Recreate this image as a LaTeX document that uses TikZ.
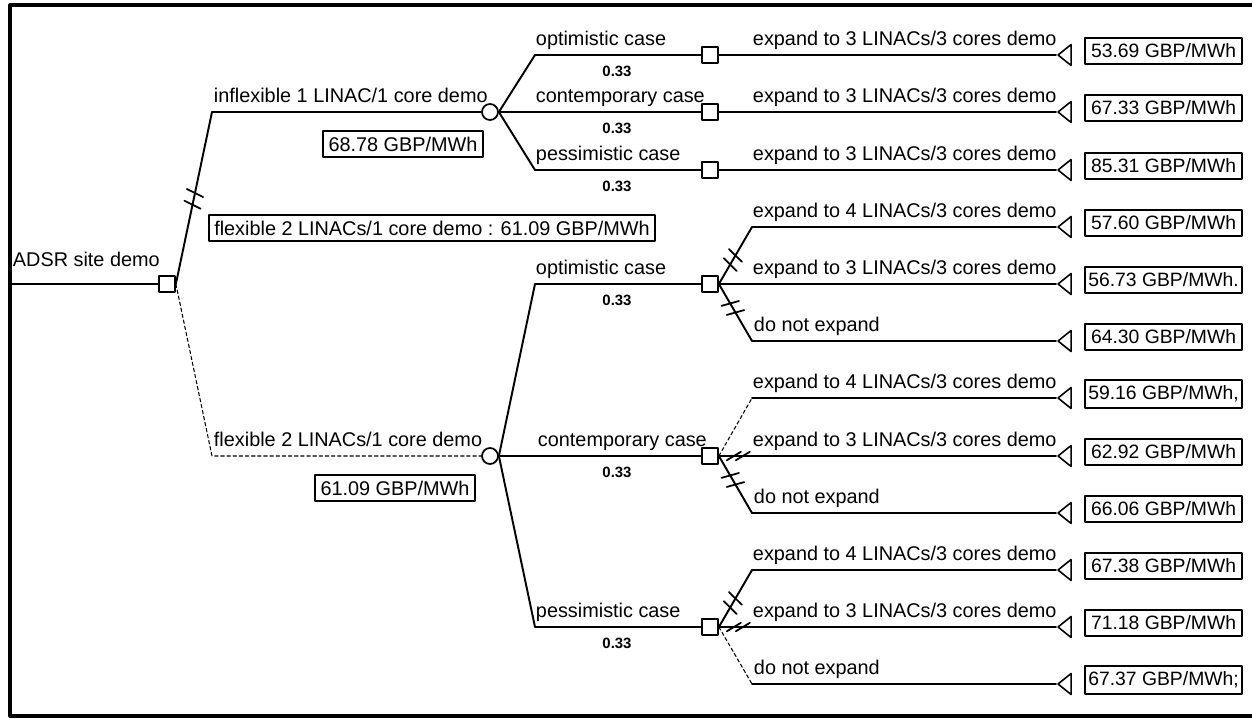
\documentclass[tikz,border=0pt]{standalone}
\usepackage{fontspec}
\setmainfont{Liberation Sans}
\usetikzlibrary{shapes.geometric,decorations.markings,positioning}

\newcommand{\hashmark}{\draw[line width=1pt] (-1.3pt,-5pt) -- (1.3pt,5pt);}
\newcommand{\flatmark}{\draw[line width=1pt] (-4pt,-2.4pt) -- (4pt,2.4pt);}

\begin{document}
\begin{tikzpicture}[x=0.02cm, y=-0.02cm, line width=1.1pt, line cap=round, line join=round,
    font=\fontsize{11.3}{13.5}\selectfont]
  \tikzstyle{decision}=[draw, fill=white, minimum size=0.32cm, inner sep=0pt, line width=1pt]
  \tikzstyle{chance}=[draw, circle, fill=white, minimum size=0.32cm, inner sep=0pt, line width=1pt]
  \tikzstyle{terminal}=[draw, isosceles triangle, isosceles triangle stretches, shape border rotate=180,
    minimum width=0.42cm, minimum height=0.26cm, inner sep=0pt, line width=0.9pt, anchor=apex]
  \tikzstyle{payoff}=[draw, line width=1.2pt, anchor=west, minimum width=3.14cm, inner xsep=1.5pt,
    minimum height=0.48cm, font=\fontsize{11}{13}\selectfont]
  \tikzstyle{result}=[draw, line width=1.2pt, minimum height=0.52cm, inner xsep=3pt]
  \tikzstyle{lbl}=[anchor=base west, inner sep=0pt]
  \tikzstyle{prob}=[inner sep=0pt, font=\fontsize{8.5}{10}\selectfont\bfseries]
  \tikzstyle{chosen}=[line width=0.6pt, dash pattern=on 2pt off 1.5pt]
  \tikzstyle{pruned}=[postaction=decorate, decoration={markings,
    mark=at position 0.45cm with {\hashmark}, mark=at position 0.66cm with {\hashmark}}]
  \tikzstyle{prunedflat}=[postaction=decorate, decoration={markings,
    mark=at position 0.3cm with {\flatmark}, mark=at position 0.48cm with {\flatmark}}]
  \tikzstyle{prunedroot}=[postaction=decorate, decoration={markings,
    mark=at position 1.62cm with {\hashmark}, mark=at position 1.86cm with {\hashmark}}]

  \useasboundingbox (0,0) rectangle (1252,719);
  \draw[line width=1.8pt] (1252,5) -- (10,5) -- (10,716) -- (1252,716);

  % root decision
  \coordinate (start) at (10,284);
  \node[decision] (root) at (167,284) {};
  \node[lbl] at (12,267) {ADSR site demo};
  \draw (start) -- (root.west);

  % inflexible option
  \coordinate (e2) at (212,112);
  \node[chance] (c1) at (490,112) {};
  \draw[prunedroot] (root.east) -- (e2) -- (c1.west);
  \node[lbl] at (213,103) {inflexible 1 LINAC/1 core demo};
  \node[result] (v1) at (403,144) {68.78 GBP/MWh};

  % flexible option
  \coordinate (e8) at (212,456);
  \node[chance] (c2) at (490,456) {};
  \draw[chosen] (root.east) -- (e8) -- (c2.west);
  \node[lbl] at (213,447) {flexible 2 LINACs/1 core demo};
  \node[result] (v2) at (395,488) {61.09 GBP/MWh};
  \node[result] (v0) at (432,228) {flexible 2 LINACs/1 core demo : 61.09 GBP/MWh};

  % cases, inflexible
  \coordinate (m1) at (535,55);
  \coordinate (m2) at (535,112);
  \coordinate (m3) at (535,170);
  \node[decision] (s1) at (710,55) {};
  \node[decision] (s2) at (710,112) {};
  \node[decision] (s3) at (710,170) {};
  \draw (c1.east) -- (m1) -- (s1.west);
  \draw (c1.east) -- (m2) -- (s2.west);
  \draw (c1.east) -- (m3) -- (s3.west);
  \node[lbl] at (535,46) {optimistic case};
  \node[lbl] at (535,103) {contemporary case};
  \node[lbl] at (535,161) {pessimistic case};
  \node[prob] at (617,71) {0.33};
  \node[prob] at (617,128) {0.33};
  \node[prob] at (617,186) {0.33};

  % cases, flexible
  \coordinate (m5) at (535,284);
  \coordinate (m8) at (535,456);
  \coordinate (m11) at (535,627);
  \node[decision] (s5) at (710,284) {};
  \node[decision] (s8) at (710,456) {};
  \node[decision] (s11) at (710,627) {};
  \draw (c2.east) -- (m5) -- (s5.west);
  \draw (c2.east) -- (m8) -- (s8.west);
  \draw (c2.east) -- (m11) -- (s11.west);
  \node[lbl] at (535,275) {optimistic case};
  \node[lbl] at (537,447) {contemporary case};
  \node[lbl] at (535,618) {pessimistic case};
  \node[prob] at (617,300) {0.33};
  \node[prob] at (617,472) {0.33};
  \node[prob] at (617,643) {0.33};

  % end points
  \node[terminal] (t1) at (1056,55) {};
  \node[terminal] (t2) at (1056,112) {};
  \node[terminal] (t3) at (1056,170) {};
  \node[terminal] (t4) at (1056,227) {};
  \node[terminal] (t5) at (1056,284) {};
  \node[terminal] (t6) at (1056,341) {};
  \node[terminal] (t7) at (1056,398) {};
  \node[terminal] (t8) at (1056,456) {};
  \node[terminal] (t9) at (1056,513) {};
  \node[terminal] (t10) at (1056,570) {};
  \node[terminal] (t11) at (1056,627) {};
  \node[terminal] (t12) at (1056,684) {};
  \node[payoff] (p1) at (1084,51) {53.69 GBP/MWh};
  \node[payoff] (p2) at (1084,108) {67.33 GBP/MWh};
  \node[payoff] (p3) at (1084,166) {85.31 GBP/MWh};
  \node[payoff] (p4) at (1084,223) {57.60 GBP/MWh};
  \node[payoff] (p5) at (1084,280) {56.73 GBP/MWh.};
  \node[payoff] (p6) at (1084,337) {64.30 GBP/MWh};
  \node[payoff] (p7) at (1084,394) {59.16 GBP/MWh,};
  \node[payoff] (p8) at (1084,452) {62.92 GBP/MWh};
  \node[payoff] (p9) at (1084,509) {66.06 GBP/MWh};
  \node[payoff] (p10) at (1084,566) {67.38 GBP/MWh};
  \node[payoff] (p11) at (1084,623) {71.18 GBP/MWh};
  \node[payoff] (p12) at (1084,680) {67.37 GBP/MWh;};

  % expansion choices
  \coordinate (k4) at (752,227);
  \coordinate (k6) at (752,341);
  \coordinate (k7) at (752,398);
  \coordinate (k9) at (752,513);
  \coordinate (k10) at (752,570);
  \coordinate (k12) at (752,684);
  \draw (s1.east) -- (t1.apex);
  \draw (s2.east) -- (t2.apex);
  \draw (s3.east) -- (t3.apex);
  \draw[pruned] (s5.east) -- (k4) -- (t4.apex);
  \draw (s5.east) -- (t5.apex);
  \draw[pruned] (s5.east) -- (k6) -- (t6.apex);
  \draw[chosen] (s8.east) -- (k7);
  \draw (k7) -- (t7.apex);
  \draw[prunedflat] (s8.east) -- (t8.apex);
  \draw[pruned] (s8.east) -- (k9) -- (t9.apex);
  \draw[pruned] (s11.east) -- (k10) -- (t10.apex);
  \draw[prunedflat] (s11.east) -- (t11.apex);
  \draw[chosen] (s11.east) -- (k12);
  \draw (k12) -- (t12.apex);
  \node[lbl] at (752,46) {expand to 3 LINACs/3 cores demo};
  \node[lbl] at (752,103) {expand to 3 LINACs/3 cores demo};
  \node[lbl] at (752,161) {expand to 3 LINACs/3 cores demo};
  \node[lbl] at (752,218) {expand to 4 LINACs/3 cores demo};
  \node[lbl] at (752,275) {expand to 3 LINACs/3 cores demo};
  \node[lbl] at (753,332) {do not expand};
  \node[lbl] at (752,389) {expand to 4 LINACs/3 cores demo};
  \node[lbl] at (752,447) {expand to 3 LINACs/3 cores demo};
  \node[lbl] at (753,504) {do not expand};
  \node[lbl] at (752,561) {expand to 4 LINACs/3 cores demo};
  \node[lbl] at (752,618) {expand to 3 LINACs/3 cores demo};
  \node[lbl] at (753,675) {do not expand};
\end{tikzpicture}
\end{document}
